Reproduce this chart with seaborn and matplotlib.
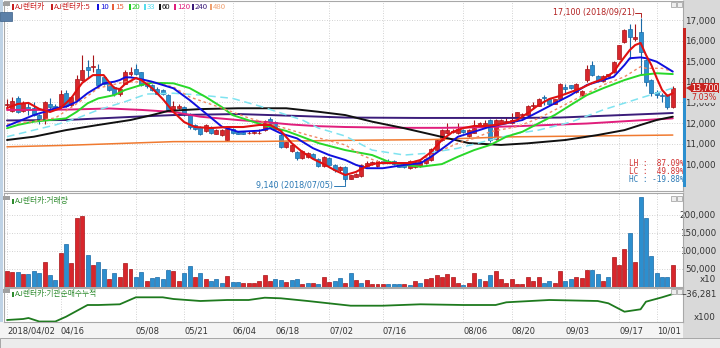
import matplotlib
matplotlib.use("Agg")
import matplotlib.pyplot as plt
import numpy as np
import pandas as pd
import seaborn as sns
from matplotlib.patches import Rectangle, Polygon

sns.set_theme(style="white")
plt.rcParams['font.family'] = ['Noto Sans CJK KR', 'DejaVu Sans']
plt.rcParams['axes.unicode_minus'] = False

# ---------------- data ----------------
tick_days = [0, 10, 24, 33, 42, 50, 60, 70, 85, 94, 104, 114, 121]
tick_labels = ["2018/04/02", "04/16", "05/08", "05/21", "06/04", "06/18", "07/02",
               "07/16", "08/06", "08/20", "09/03", "09/17", "10/01"]

opens = [12900,12590,13240,12590,12780,12750,12380,12220,12950,12850,12780,13450,12860,13110,14110,14720,14720,14650,14230,14000,
         13750,13430,13920,14370,14650,14480,13950,13835,13674,13590,13350,12650,12750,12780,12460,11900,11800,11600,11800,11490,
         11400,11170,11700,11580,11560,11510,11500,11510,11650,12200,12050,11400,10840,10650,10600,10300,10350,10500,10250,9900,
         10300,9950,9700,9870,9300,9400,9420,9900,10000,9900,10150,10160,10150,10050,9950,9800,9850,9900,10060,10200,
         10680,11200,11500,11550,11500,11650,11350,11540,11820,11900,12136,11250,11990,12050,12000,12300,12380,12400,12850,12850,
         13270,13170,12950,13170,13750,13830,13500,13350,14080,14810,14290,14050,14280,14480,15130,15940,16580,16100,16430,15050,
         14090,13500,13350,13360,12800]
highs = [13150,13250,13300,13050,13030,13000,12420,13050,13200,12950,13600,13600,13300,14350,15290,15050,15300,14850,14300,14050,
         13800,13700,14600,14720,14890,14500,14000,13900,13750,13650,13400,13050,12950,12850,12500,11950,11850,11950,11850,11700,
         11700,11750,11750,11600,11600,11600,11600,11700,12150,12300,12100,11450,11100,11000,10650,10680,10600,10550,10300,10380,
         10350,10000,9900,9900,9500,9600,10000,10150,10180,10200,10200,10250,10200,10100,10000,10200,10150,10200,10300,10800,
         11250,11700,11990,11700,11990,11700,11700,12150,12050,12150,12200,12200,12200,12300,12500,12550,12500,12900,13020,13200,
         13350,13200,13170,13950,13900,13850,13950,13600,14800,15000,14350,14350,14400,15000,15800,16550,16800,16800,17100,15100,
         14150,13600,13450,13400,13800]
lows = [12780,12550,12500,12560,12380,12350,11980,11970,12700,12650,12750,12800,12800,13050,14050,14200,14500,13700,13850,13550,
        13300,13300,13900,14300,14350,13800,13700,13550,13400,13350,12600,12600,12700,12350,11700,11650,11400,11550,11450,11450,
        11350,11150,11450,11450,11450,11450,11480,11480,11600,11900,11700,10800,10800,10600,10200,10280,10300,10250,9850,9880,
        9950,9650,9650,9140,9280,9380,9400,9850,9950,9880,10000,10100,9950,9850,9800,9780,9820,9880,10000,10150,
        10650,11150,11450,11500,11480,11500,11330,11500,11800,11880,11100,11200,11950,12000,11980,12250,12350,12380,12700,12820,
        12880,12900,12920,13150,13400,13650,13450,13300,14000,14300,14000,14000,14250,14450,15100,15900,15100,16000,14400,13800,
        13300,13200,13000,12700,12750]
closes = [12950,13060,12540,12990,12620,12400,12150,13030,12780,12700,13430,12850,13270,14160,14600,14560,14780,13840,13920,13590,
          13430,13670,14480,14480,14400,13840,13800,13590,13430,13430,12620,12850,12850,12420,11810,11700,11490,11900,11500,11680,
          11650,11730,11500,11490,11480,11530,11560,11540,12100,11970,11730,10840,11080,10950,10330,10650,10550,10300,9900,10350,
          9980,9710,9870,9300,9460,9550,9950,10050,10120,10160,10050,10140,10000,9880,9850,10160,10100,10150,10280,10760,
          11200,11680,11650,11620,11730,11580,11650,11750,11990,12000,11165,12136,12150,12100,12150,12520,12460,12850,12880,13170,
          13200,12950,13150,13900,13670,13700,13900,13550,14650,14320,14080,14300,14360,14970,15780,16500,16180,16200,15470,14010,
          13460,13380,13300,12800,13700]

volume = [45,41,41,36,37,43,38,69,34,19,94,120,65,190,197,88,61,69,51,21,40,27,67,51,29,41,17,26,29,21,
          46,43,16,40,59,29,38,21,16,22,11,31,14,14,12,12,12,16,32,16,21,19,14,19,22,7,10,12,7,29,
          14,17,24,10,38,19,10,19,8,8,8,7,8,7,7,5,17,12,22,24,34,27,37,29,11,5,11,39,22,17,
          32,43,21,11,21,7,8,27,16,27,12,16,12,45,16,21,29,24,46,48,37,17,29,82,61,106,149,69,248,190,
          87,38,29,29,60]
volume = [v * 1000 for v in volume]
vol_up = [1,1,0,1,0,0,0,1,0,0,1,0,1,1,1,0,1,0,0,1,0,1,1,1,0,0,1,0,0,0,
          0,1,1,0,0,1,0,1,0,0,0,1,0,0,1,1,1,1,1,1,0,0,1,0,0,1,0,1,0,1,
          1,0,0,1,0,1,0,1,1,1,1,0,0,0,1,0,1,0,1,1,1,1,1,1,1,0,1,1,0,1,
          0,1,1,1,1,1,1,1,1,1,0,0,1,1,0,0,1,1,1,0,0,1,0,1,1,1,0,1,0,0,
          0,0,0,0,1]

ma5_k = [0,2,4,6,8,10,12,13,14,16,18,19,20,21,22,24,25,27,29,31,33,35,38,41,44,47,49,51,53,55,57,59,61,63,65,67,69,72,75,77,79,81,83,85,87,89,91,93,95,97,99,101,103,105,107,109,111,113,114,115,116,117,118,119,120,121,122,123,124]
ma5_v = [12730,12930,12980,12690,12540,12730,13220,13600,13950,14330,14330,13990,13700,13650,13900,14190,14090,13700,13170,12540,12050,11810,11760,11810,11810,11910,11910,11620,11030,10600,10260,10010,9720,9480,9630,9920,10060,10060,10060,10210,10600,11180,11570,11760,11860,11860,11910,12000,12150,12490,12880,13170,13320,13510,13700,13950,14140,14480,14870,15210,15550,15790,15890,15310,14820,14190,13610,13320,13450]
ma10_k = [0,2,5,7,9,11,13,15,17,18,20,21,22,23,25,27,28,31,34,40,43,47,49,51,54,57,60,63,65,67,70,74,77,79,82,84,87,90,93,96,99,102,105,108,111,113,115,116,118,119,121,123,124]
ma10_v = [11860,12070,12390,12550,12720,12800,13040,13450,13770,13930,14010,14090,14220,14220,14130,14010,13930,13690,13120,11830,11580,11630,11750,11500,11260,10780,10450,10210,9970,9810,9810,9970,10050,10370,10940,11340,11580,11830,11990,12150,12550,12960,13360,13850,14090,14250,14820,15150,15190,15150,14980,14660,14500]
ma15_k = [0,4,9,14,17,22,25,28,31,34,40,45,51,56,63,66,69,74,77,81,84,87,90,95,99,105,111,115,118,119,122,124]
ma15_v = [11950,12050,12250,13120,13700,14000,14000,13950,13750,13270,12730,12250,11810,11420,10940,10450,10130,10010,10210,10690,11020,11260,11580,11830,12230,13040,13850,14250,14740,14660,14660,14500]
ma20_k = [0,2,5,8,11,13,15,17,20,22,25,27,31,34,37,40,42,46,49,52,55,58,63,68,71,74,77,81,84,87,90,93,96,99,102,105,108,111,115,118,121,124]
ma20_v = [11750,11910,12070,12150,12230,12550,12960,13200,13360,13610,13850,13960,13930,13700,13270,12780,12390,12050,11810,11620,11330,11030,10690,10450,10130,9970,9880,10010,10370,10690,10940,11340,11580,11990,12390,12880,13360,13690,14090,14330,14420,14380]
ma33_k = [0,5,9,13,17,22,26,31,36,42,47,51,55,58,63,68,74,78,84,90,95,99,105,111,118,124]
ma33_v = [11340,11660,11910,12230,12640,13040,13410,13450,13360,13200,12830,12490,12150,11760,11370,10690,10450,10530,10780,11180,11500,11660,12050,12640,13220,13700]
ma60_k = [0,5,11,17,23,27,30,36,43,52,58,63,68,74,81,86,92,97,104,110,115,118,121,124]
ma60_v = [11180,11340,11660,11910,12150,12390,12590,12680,12720,12720,12550,12390,12070,11750,11330,11030,10940,11020,11180,11420,11660,11910,12150,12310]
ma120_k = [0,6,12,19,25,28,31,36,43,48,53,58,63,74,81,87,95,108,124]
ma120_v = [12640,12640,12660,12710,12640,12590,12540,12310,12150,12050,11930,11850,11810,11770,11770,11790,11850,11980,12230]
ma240_k = [0,11,23,31,43,55,63,77,95,103,124]
ma240_v = [12130,12150,12300,12390,12440,12340,12270,12250,12250,12270,12490]
ma480_k = [0,11,31,47,62,79,93,124]
ma480_v = [10850,10920,11100,11110,11160,11200,11330,11420]

cum_k = [0,3,4,6,9,11,15,17,21,24,29,31,36,41,45,48,51,56,64,70,77,85,91,93,101,110,112,115,118,119,122,124]
cum_v = [-54480,-53780,-53080,-55530,-55530,-52170,-43980,-43980,-43490,-38590,-38590,-39780,-41180,-40480,-40480,-38870,
         -39290,-41180,-44470,-44470,-43490,-43980,-43980,-42090,-40480,-41180,-42790,-48670,-46990,-41670,-38590,-36281]

price_ticks = [10000, 11000, 12000, 13000, 14000, 15000, 16000, 17000]
vol_ticks = [50000, 100000, 150000, 200000]

# ---------------- figure ----------------
W, H = 720, 348
fig = plt.figure(figsize=(W / 100, H / 100), dpi=100)
fig.patch.set_facecolor("white")

def fx(px):
    return px / W

def fy(py):
    return 1 - py / H

def fig_rect(x, y, w, h, zorder=-5, **kw):
    r = Rectangle((fx(x), fy(y + h)), w / W, h / H, transform=fig.transFigure, zorder=zorder, **kw)
    fig.patches.append(r)
    return r

# background strips (behind the axes)
fig_rect(683, 0, 37, 338, facecolor="#D9D9D9", edgecolor="none")
fig_rect(0, 322, 683, 16, facecolor="#F4F4F4", edgecolor="none")
fig_rect(0, 338, 720, 10, facecolor="#ECECEC", edgecolor="#9A9A9A", lw=0.6)
fig_rect(0, 0, 3, 322, facecolor="#BFD3E6", edgecolor="none")

XL = (-0.56, 125.9)
ax_p = fig.add_axes([fx(4), fy(191), fx(679), 190 / H])
ax_v = fig.add_axes([fx(4), fy(287), fx(679), 94 / H])
ax_c = fig.add_axes([fx(4), fy(322), fx(679), 34 / H])

grid_kw = dict(color="#C4C4C4", lw=0.6, linestyle=(0, (1, 2)))
LBL = "#333333"
RIGHT_PAD = (716 - 683) * 0.72  # points, labels right-aligned at x=716
for ax in (ax_p, ax_v, ax_c):
    ax.set_xlim(*XL)
    ax.set_facecolor("white")
    for s in ax.spines.values():
        s.set_color("#A8A8A8")
        s.set_linewidth(0.8)
    ax.set_xticks(tick_days)
    ax.tick_params(axis="both", length=0)
    ax.grid(axis="x", **grid_kw)

days = np.arange(len(closes))
o = np.array(opens); c = np.array(closes); hi = np.array(highs); lo = np.array(lows)
up = c >= o
RED, RED_E = "#D8262C", "#A81418"
BLUE, BLUE_E = "#2C8FCF", "#1A6AA6"

# ---- price panel ----
ax_p.set_ylim(8704, 17927)
ax_p.set_yticks(price_ticks)
ax_p.grid(axis="y", **grid_kw)
ax_p.yaxis.tick_right()
ax_p.set_yticklabels([f"{t:,}" for t in price_ticks], fontsize=6.3, color=LBL,
                     family=["DejaVu Sans"], ha="right")
ax_p.tick_params(axis="y", pad=RIGHT_PAD)
ax_p.set_xticklabels([])

ax_p.vlines(days, lo, hi, colors=np.where(up, RED_E, BLUE_E), lw=0.8, zorder=3)
body_h = np.maximum(np.abs(c - o), 25)
ax_p.bar(days, body_h, bottom=np.minimum(o, c), width=0.74,
         color=np.where(up, RED, BLUE), edgecolor=np.where(up, RED_E, BLUE_E), lw=0.5, zorder=4)

ma_specs = [
    (ma480_k, ma480_v, "#F07A30", "-", 1.1),
    (ma240_k, ma240_v, "#3B1C7A", "-", 1.4),
    (ma120_k, ma120_v, "#E01E7C", "-", 1.4),
    (ma60_k, ma60_v, "#111111", "-", 1.4),
    (ma33_k, ma33_v, "#7FE3F0", (0, (5, 3)), 1.1),
    (ma20_k, ma20_v, "#29D829", "-", 1.4),
    (ma15_k, ma15_v, "#F08A66", (0, (2, 2)), 1.0),
    (ma10_k, ma10_v, "#1010DD", "-", 1.4),
    (ma5_k, ma5_v, "#E01010", "-", 1.5),
]
for kk, vv, col, ls, lw in ma_specs:
    sns.lineplot(x=kk, y=vv, ax=ax_p, color=col, linestyle=ls, lw=lw, zorder=5, legend=False)
ax_p.set_xlabel(""); ax_p.set_ylabel("")

# high / low annotations
ax_p.text(116.9, 17368, "17,100 (2018/09/21)", ha="right", va="center", fontsize=5.8,
          color="#B22222", family=["DejaVu Sans"])
ax_p.plot([117.0, 118, 118], [17368, 17368, 17140], color="#B22222", lw=0.7, zorder=6)
ax_p.text(60.8, 8947, "9,140 (2018/07/05)", ha="right", va="center", fontsize=5.8,
          color="#2A78B4", family=["DejaVu Sans"])
ax_p.plot([60.9, 63, 63], [8947, 8947, 9120], color="#2A78B4", lw=0.7, zorder=6)

# LH / LC / HC text
for txt, py, col in [("LH :  87.09%", 164, "#D03030"), ("LC :  49.89%", 172, "#D03030"),
                     ("HC : -19.88%", 180, "#2A78B4")]:
    fig.text(fx(629), fy(py), txt, fontsize=5.6, color=col, family=["DejaVu Sans Mono"],
             ha="left", va="center")

# ---- volume panel ----
ax_v.set_ylim(0, 259900)
ax_v.set_yticks(vol_ticks)
ax_v.grid(axis="y", **grid_kw)
ax_v.yaxis.tick_right()
ax_v.set_yticklabels([f"{t:,}" for t in vol_ticks], fontsize=6.3, color=LBL,
                     family=["DejaVu Sans"], ha="right")
ax_v.tick_params(axis="y", pad=RIGHT_PAD)
ax_v.set_xticklabels([])
vu = np.array(vol_up).astype(bool)
ax_v.bar(days, volume, width=0.74, color=np.where(vu, RED, BLUE),
         edgecolor=np.where(vu, RED_E, BLUE_E), lw=0.5, zorder=3)
fig.text(fx(716), fy(280), "x10", fontsize=6.3, color=LBL, ha="right", va="center",
         family=["DejaVu Sans"])

# ---- cumulative panel ----
ax_c.set_ylim(-55881, -32081)
ax_c.set_yticks([])
sns.lineplot(x=cum_k, y=cum_v, ax=ax_c, color="#1E7A1E", lw=1.3, legend=False)
ax_c.set_xlabel(""); ax_c.set_ylabel("")
ax_c.set_xticklabels(tick_labels, fontsize=6.0, color=LBL, family=["DejaVu Sans"])
for lab in ax_c.get_xticklabels():
    lab.set_horizontalalignment("left")
ax_c.tick_params(axis="x", pad=3)
fig.text(fx(717), fy(294), "\u2212" + "36,281", fontsize=6.2, color=LBL, ha="right", va="center",
         family=["DejaVu Sans"])
fig.text(fx(716), fy(317), "x100", fontsize=6.3, color=LBL, ha="right", va="center",
         family=["DejaVu Sans"])

# ---- panel headers / legend ----
legend_items = [("AJ렌터카", "#C81E1E", 13), ("AJ렌터카:5", "#C81E1E", 52), ("10", "#1010DD", 98),
                ("15", "#E8603A", 113), ("20", "#22CC22", 130), ("33", "#55DDEE", 145),
                ("60", "#111111", 160), ("120", "#E01E7C", 175), ("240", "#3B1C7A", 193),
                ("480", "#F0A070", 211)]
for txt, col, px in legend_items:
    fig_rect(px - 1, 4.5, 1.6, 5, zorder=5, facecolor=col, edgecolor="none")
    fig.text(fx(px + 2), fy(7), txt, fontsize=5.6, color=col, ha="left", va="center")

fig_rect(12, 198.5, 1.6, 5, zorder=5, facecolor="#2E8B2E", edgecolor="none")
fig.text(fx(15), fy(201), "AJ렌터카:거래량", fontsize=5.6, color="#2E8B2E", ha="left", va="center")
fig_rect(12, 291.5, 1.6, 5, zorder=5, facecolor="#2E8B2E", edgecolor="none")
fig.text(fx(15), fy(294), "AJ렌터카:기관순매수누적", fontsize=5.6, color="#2E8B2E", ha="left", va="center")

# small panel icons
for py in (2, 196, 289):
    fig_rect(3, py, 7, 4, zorder=5, facecolor="#A0A0A0", edgecolor="none")
    for px in (671, 677):
        fig_rect(px, py, 5, 5, zorder=5, facecolor="#EEEEEE", edgecolor="#9A9A9A", lw=0.5)
fig_rect(0, 12, 12, 9, zorder=5, facecolor="#5A7FA8", edgecolor="#3A5F88", lw=0.5)
fig.text(fx(6), fy(16.5), "호", fontsize=5, color="white", ha="center", va="center")

# current price marker and range bar
fig_rect(683, 28, 2.5, 70, zorder=5, facecolor="#C8231F", edgecolor="none")
fig_rect(683, 98, 2.5, 89, zorder=5, facecolor="#2C8FCF", edgecolor="none")
fig_rect(691, 83, 28, 10, zorder=5, facecolor="#C8231F", edgecolor="none")
fig.patches.append(Polygon([(fx(686), fy(88)), (fx(691), fy(85)), (fx(691), fy(91))], closed=True,
                           transform=fig.transFigure, facecolor="#C8231F", edgecolor="none", zorder=5))
fig.text(fx(705), fy(88), "13,700", fontsize=5.8, color="white", ha="center", va="center",
         family=["DejaVu Sans"], zorder=6)
fig.text(fx(717), fy(97.5), "7.03%", fontsize=5.8, color="#C8231F", ha="right", va="center",
         family=["DejaVu Sans"], zorder=6,
         bbox=dict(boxstyle="square,pad=0.1", facecolor="#D9D9D9", edgecolor="none"))

fig.savefig("out.png", dpi=100)
